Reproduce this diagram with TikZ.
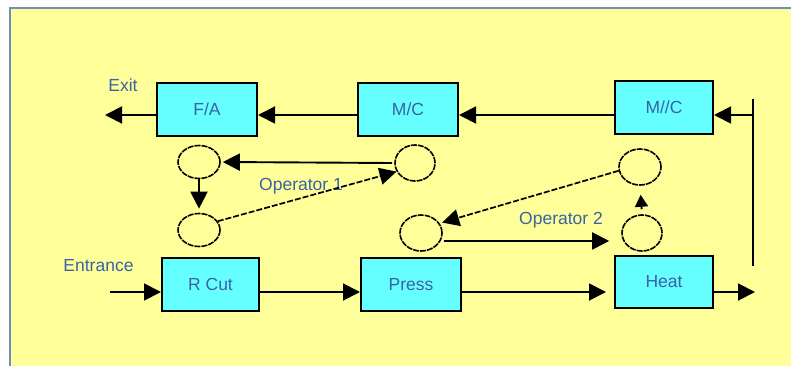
\documentclass[tikz,border=0pt]{standalone}
\usepackage{fontspec}
\setmainfont{Liberation Sans}
\usetikzlibrary{arrows.meta,shapes.geometric}
\definecolor{paper}{RGB}{255,255,153}
\definecolor{boxfill}{RGB}{102,255,255}
\definecolor{labelblue}{RGB}{58,98,165}
\definecolor{frameblue}{RGB}{112,142,184}
\tikzset{
  lbl/.style={font=\fontsize{17.5}{20}\selectfont, text=labelblue, inner sep=0pt},
  stage/.style={draw=black, line width=2pt, fill=boxfill, minimum width=100pt,
    minimum height=53pt, inner sep=0pt, font=\fontsize{17.5}{20}\selectfont, text=labelblue},
  slot/.style={draw=black, line width=1.6pt, ellipse, minimum width=42pt, minimum height=33pt,
    inner sep=0pt, dash pattern=on 6pt off 1pt},
  flow/.style={line width=1.9pt, -{Triangle[length=17pt,width=17pt]}},
  tip/.style={line width=1.9pt, -{Triangle[length=12pt,width=13pt]}},
  route/.style={line width=1.7pt, dash pattern=on 6pt off 2pt, -{Triangle[length=17pt,width=17pt]}},
}
\begin{document}
\begin{tikzpicture}[x=1pt,y=-1pt]
\useasboundingbox (0,0) rectangle (791,366);
\clip (0,0) rectangle (791,366);
\fill[white] (0,0) rectangle (791,366);
\draw[frameblue, line width=1.8pt, fill=paper] (10,8) rectangle (800,380);

% process stages
\node[stage] (fa)   at (207,109.5) {F/A};
\node[stage] (mc)   at (408,109.5) {M/C};
\node[stage, minimum width=98pt] (mcc) at (664,107.5) {M//C};
\node[stage, minimum width=97pt] (rcut) at (210.5,284.5) {R Cut};
\node[stage] (press) at (411,284.5) {Press};
\node[stage, minimum width=98pt, minimum height=52pt] (heat) at (664,282) {Heat};

% operator slots
\node[slot] (c1) at (199,162) {};
\node[slot, minimum height=36pt, minimum width=40pt] (c2) at (415,163) {};
\node[slot] (c3) at (199,230) {};
\node[slot, minimum height=36pt] (c4) at (421,233) {};
\node[slot, minimum height=36pt] (c5) at (640,167) {};
\node[slot, minimum height=36pt, minimum width=40pt] (c6) at (642,233) {};

% free ends of the flow
\coordinate (exit) at (105,115);
\coordinate (entry) at (110,292);
\coordinate (top) at (753,99);
\coordinate (bottom) at (753,266);
\coordinate (out) at (755,292);

% texts
\node[lbl, anchor=base] (exitlbl) at (123,92) {Exit};
\node[lbl, anchor=base] (entrylbl) at (98.5,271) {Entrance};
\node[lbl, anchor=base] (op1) at (301,190) {Operator 1};
\node[lbl, anchor=base] (op2) at (561,224) {Operator 2};

% upper line, right to left
\draw[flow] (fa.west |- exit) -- (exit);
\draw[flow] (mc.west |- exit) -- (fa.east |- exit);
\draw[flow] (mcc.west |- exit) -- (mc.east |- exit);
\draw[line width=1.9pt] (top) -- (bottom);
\draw[flow] (top |- exit) -- (mcc.east |- exit);

% lower line, left to right
\draw[flow] (entry) -- (rcut.west |- entry);
\draw[flow] (rcut.east |- entry) -- (press.west |- entry);
\draw[flow, shorten >=8pt] (press.east |- entry) -- (heat.west |- entry);
\draw[flow] (heat.east |- entry) -- (out);

% operator 1 round
\draw[flow] ([xshift=-2pt]c2.west) -- ([xshift=2pt]c1.east);
\draw[flow, shorten >=4pt] (c1.south) -- (c3.north);
\draw[route] (c3.25) -- (c2.205);

% operator 2 round
\draw[route] (c5.190) -- ([xshift=3pt]c4.30);
\draw[flow] ([xshift=3pt]c4.-22) -- ([xshift=-12pt]c6.west |- c4.-22);
\draw[tip, shorten <=5pt, shorten >=9pt] (c6.north) -- (c5.south);
\end{tikzpicture}
\end{document}
